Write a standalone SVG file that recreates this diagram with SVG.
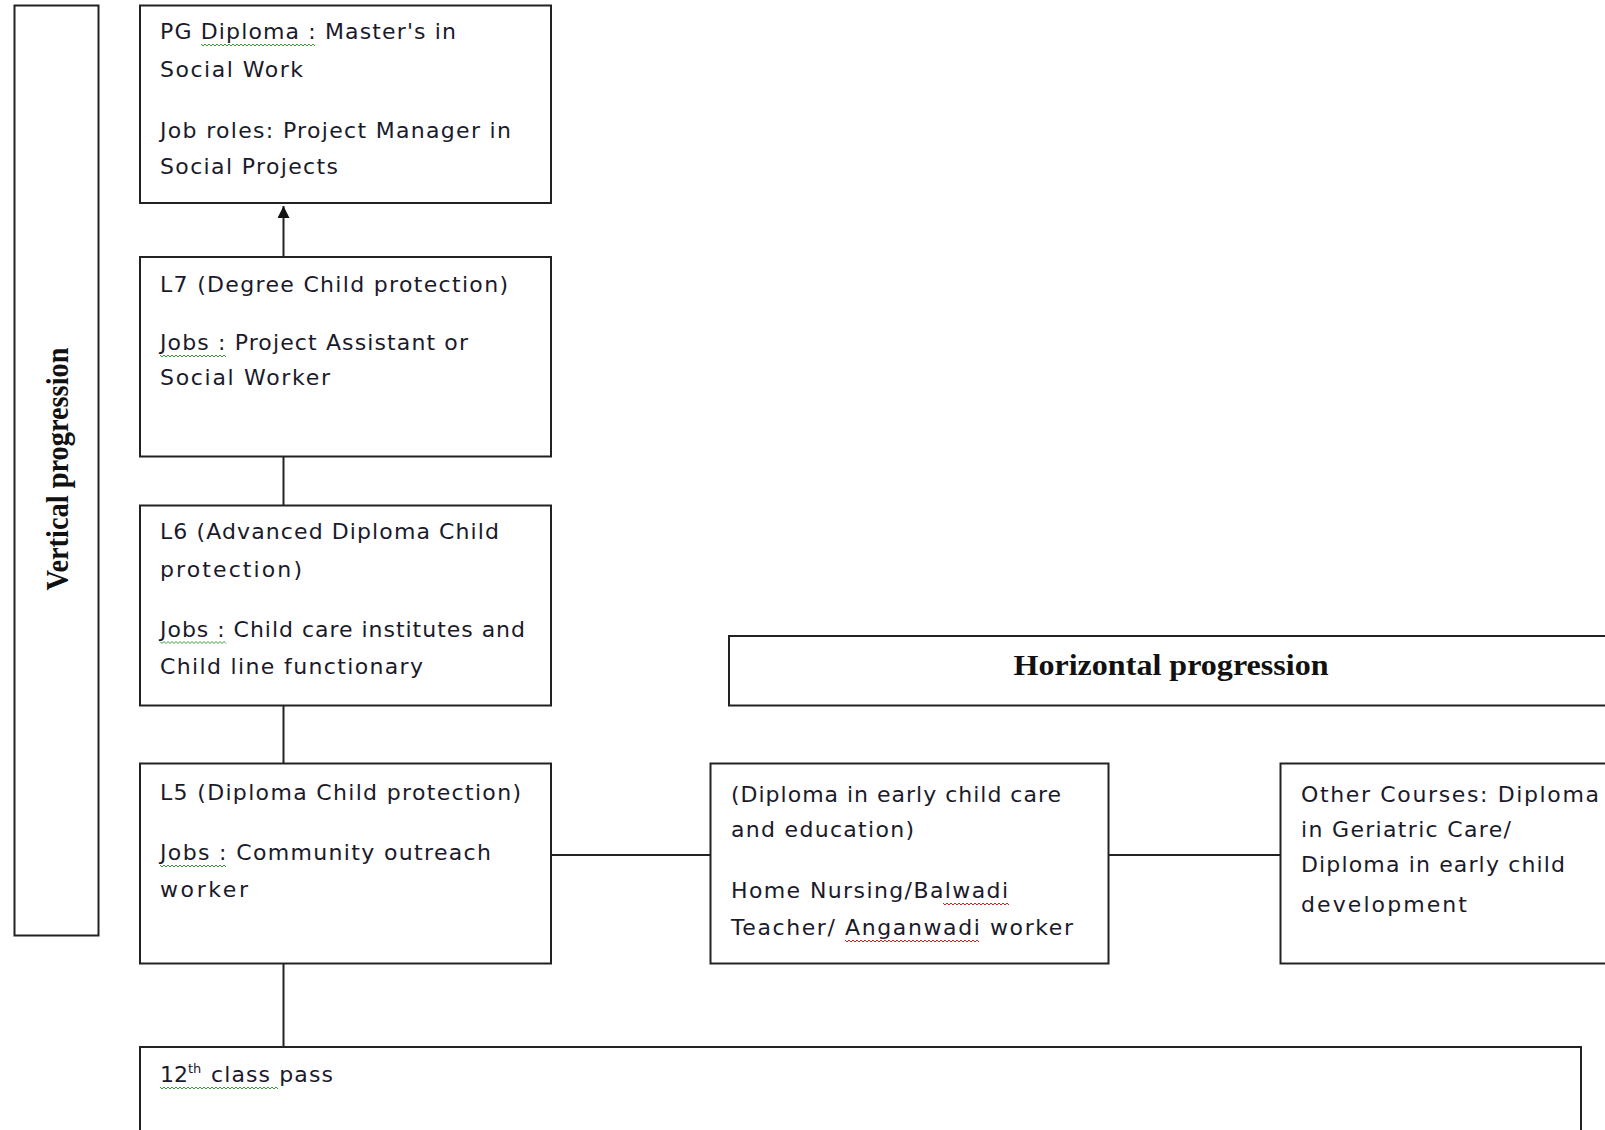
<svg xmlns="http://www.w3.org/2000/svg" width="1605" height="1130" viewBox="0 0 1605 1130">
<defs>
<style>
.box{fill:#fff;stroke:#222;stroke-width:2}
.t{font-family:"DejaVu Sans","Liberation Sans",sans-serif;font-size:22px;fill:#1a1a2a}
.h{font-family:"Liberation Serif","Times New Roman",serif;font-weight:bold;fill:#111}
.ln{stroke:#222;stroke-width:2;fill:none}
.sqg{stroke:#3a9a3a;stroke-width:1;fill:none}
.sqr{stroke:#d02020;stroke-width:1;fill:none}
</style>
<marker id="arr" viewBox="0 0 10 10" refX="10" refY="5" markerWidth="14" markerHeight="12" orient="auto-start-reverse" markerUnits="userSpaceOnUse">
<path d="M0,0 L10,5 L0,10 z" fill="#111"/>
</marker>
</defs>
<rect width="1605" height="1130" fill="#fff"/>

<g id="vertical-progression">
<rect class="box" x="14.5" y="5.5" width="84" height="930"/>
<text class="h" font-size="31" transform="translate(68,469) rotate(-90)" text-anchor="middle" textLength="243" lengthAdjust="spacingAndGlyphs">Vertical progression</text>
</g>

<g id="pg-diploma">
<rect class="box" x="140" y="5.5" width="411" height="197.5"/>
<text class="t" x="160" y="39" textLength="296" lengthAdjust="spacing">PG Diploma : Master's in</text>
<text class="t" x="160" y="77" textLength="143" lengthAdjust="spacing">Social Work</text>
<text class="t" x="160" y="138" textLength="351" lengthAdjust="spacing">Job roles: Project Manager in</text>
<text class="t" x="160" y="174" textLength="178" lengthAdjust="spacing">Social Projects</text>
</g>

<g id="l7">
<rect class="box" x="140" y="257" width="411" height="199.5"/>
<text class="t" x="160" y="291.5" textLength="348" lengthAdjust="spacing">L7 (Degree Child protection)</text>
<text class="t" x="160" y="350" textLength="308" lengthAdjust="spacing">Jobs : Project Assistant or</text>
<text class="t" x="160" y="385" textLength="170" lengthAdjust="spacing">Social Worker</text>
</g>

<g id="l6">
<rect class="box" x="140" y="505.5" width="411" height="200"/>
<text class="t" x="160" y="538.5" textLength="339" lengthAdjust="spacing">L6 (Advanced Diploma Child</text>
<text class="t" x="160" y="576.5" textLength="142" lengthAdjust="spacing">protection)</text>
<text class="t" x="160" y="636.5" textLength="365" lengthAdjust="spacing">Jobs : Child care institutes and</text>
<text class="t" x="160" y="673.5" textLength="263" lengthAdjust="spacing">Child line functionary</text>
</g>

<g id="l5">
<rect class="box" x="140" y="763.5" width="411" height="200"/>
<text class="t" x="160" y="800" textLength="361" lengthAdjust="spacing">L5 (Diploma Child protection)</text>
<text class="t" x="160" y="860" textLength="331" lengthAdjust="spacing">Jobs : Community outreach</text>
<text class="t" x="160" y="897" textLength="88" lengthAdjust="spacing">worker</text>
</g>

<g id="class-12">
<rect class="box" x="140" y="1047" width="1441" height="100"/>
<text class="t" x="160" y="1082">12<tspan font-size="13" dy="-9">th</tspan></text>
<text class="t" x="211" y="1082" textLength="122" lengthAdjust="spacing">class pass</text>
</g>

<g id="horizontal-progression">
<rect class="box" x="729" y="636" width="900" height="69.5"/>
<text class="h" font-size="30" x="1171" y="675" text-anchor="middle" textLength="315" lengthAdjust="spacingAndGlyphs">Horizontal progression</text>
</g>

<g id="ecce">
<rect class="box" x="710.5" y="763.5" width="398" height="200"/>
<text class="t" x="731" y="802" textLength="330" lengthAdjust="spacing">(Diploma in early child care</text>
<text class="t" x="731" y="837" textLength="183" lengthAdjust="spacing">and education)</text>
<text class="t" x="731" y="898" textLength="277" lengthAdjust="spacing">Home Nursing/Balwadi</text>
<text class="t" x="731" y="935" textLength="342" lengthAdjust="spacing">Teacher/ Anganwadi  worker</text>
</g>

<g id="other-courses">
<rect class="box" x="1280.5" y="763.5" width="400" height="200"/>
<text class="t" x="1301" y="802" textLength="298" lengthAdjust="spacing">Other Courses:  Diploma</text>
<text class="t" x="1301" y="837" textLength="210" lengthAdjust="spacing">in Geriatric Care/</text>
<text class="t" x="1301" y="872" textLength="264" lengthAdjust="spacing">Diploma in early child</text>
<text class="t" x="1301" y="912" textLength="166" lengthAdjust="spacing">development</text>
</g>

<g id="connectors">
<line class="ln" x1="283.5" y1="257" x2="283.5" y2="206" marker-end="url(#arr)"/>
<line class="ln" x1="283.5" y1="456.5" x2="283.5" y2="505.5"/>
<line class="ln" x1="283.5" y1="705.5" x2="283.5" y2="763.5"/>
<line class="ln" x1="283.5" y1="963.5" x2="283.5" y2="1047"/>
<line class="ln" x1="551" y1="855" x2="710.5" y2="855"/>
<line class="ln" x1="1108.5" y1="855" x2="1280.5" y2="855"/>
</g>

<g id="spellcheck">
<path class="sqg" d="M201,44 l2,2 l2,-2 l2,2 l2,-2 l2,2 l2,-2 l2,2 l2,-2 l2,2 l2,-2 l2,2 l2,-2 l2,2 l2,-2 l2,2 l2,-2 l2,2 l2,-2 l2,2 l2,-2 l2,2 l2,-2 l2,2 l2,-2 l2,2 l2,-2 l2,2 l2,-2 l2,2 l2,-2 l2,2 l2,-2 l2,2 l2,-2 l2,2 l2,-2 l2,2 l2,-2 l2,2 l2,-2 l2,2 l2,-2 l2,2 l2,-2 l2,2 l2,-2 l2,2 l2,-2 l2,2 l2,-2 l2,2 l2,-2 l2,2 l2,-2 l2,2 l2,-2 l2,2"/>
<path id="sq-jobs" class="sqg" d="M160,355 l2,2 l2,-2 l2,2 l2,-2 l2,2 l2,-2 l2,2 l2,-2 l2,2 l2,-2 l2,2 l2,-2 l2,2 l2,-2 l2,2 l2,-2 l2,2 l2,-2 l2,2 l2,-2 l2,2 l2,-2 l2,2 l2,-2 l2,2 l2,-2 l2,2 l2,-2 l2,2 l2,-2 l2,2 l2,-2 l2,2"/>
<use href="#sq-jobs" y="286.5"/>
<use href="#sq-jobs" y="510"/>
<path class="sqg" d="M160,1087 l2,2 l2,-2 l2,2 l2,-2 l2,2 l2,-2 l2,2 l2,-2 l2,2 l2,-2 l2,2 l2,-2 l2,2 l2,-2 l2,2 l2,-2 l2,2 l2,-2 l2,2 l2,-2 l2,2 l2,-2 l2,2 l2,-2 l2,2 l2,-2 l2,2 l2,-2 l2,2 l2,-2 l2,2 l2,-2 l2,2 l2,-2 l2,2 l2,-2 l2,2 l2,-2 l2,2 l2,-2 l2,2 l2,-2 l2,2 l2,-2 l2,2 l2,-2 l2,2 l2,-2 l2,2 l2,-2 l2,2 l2,-2 l2,2 l2,-2 l2,2 l2,-2 l2,2 l2,-2 l2,2"/>
<path class="sqr" d="M943,903 l2,2 l2,-2 l2,2 l2,-2 l2,2 l2,-2 l2,2 l2,-2 l2,2 l2,-2 l2,2 l2,-2 l2,2 l2,-2 l2,2 l2,-2 l2,2 l2,-2 l2,2 l2,-2 l2,2 l2,-2 l2,2 l2,-2 l2,2 l2,-2 l2,2 l2,-2 l2,2 l2,-2 l2,2 l2,-2 l2,2"/>
<path class="sqr" d="M845,940 l2,2 l2,-2 l2,2 l2,-2 l2,2 l2,-2 l2,2 l2,-2 l2,2 l2,-2 l2,2 l2,-2 l2,2 l2,-2 l2,2 l2,-2 l2,2 l2,-2 l2,2 l2,-2 l2,2 l2,-2 l2,2 l2,-2 l2,2 l2,-2 l2,2 l2,-2 l2,2 l2,-2 l2,2 l2,-2 l2,2 l2,-2 l2,2 l2,-2 l2,2 l2,-2 l2,2 l2,-2 l2,2 l2,-2 l2,2 l2,-2 l2,2 l2,-2 l2,2 l2,-2 l2,2 l2,-2 l2,2 l2,-2 l2,2 l2,-2 l2,2 l2,-2 l2,2 l2,-2 l2,2 l2,-2 l2,2 l2,-2 l2,2 l2,-2 l2,2 l2,-2 l2,2"/>
</g>
</svg>
